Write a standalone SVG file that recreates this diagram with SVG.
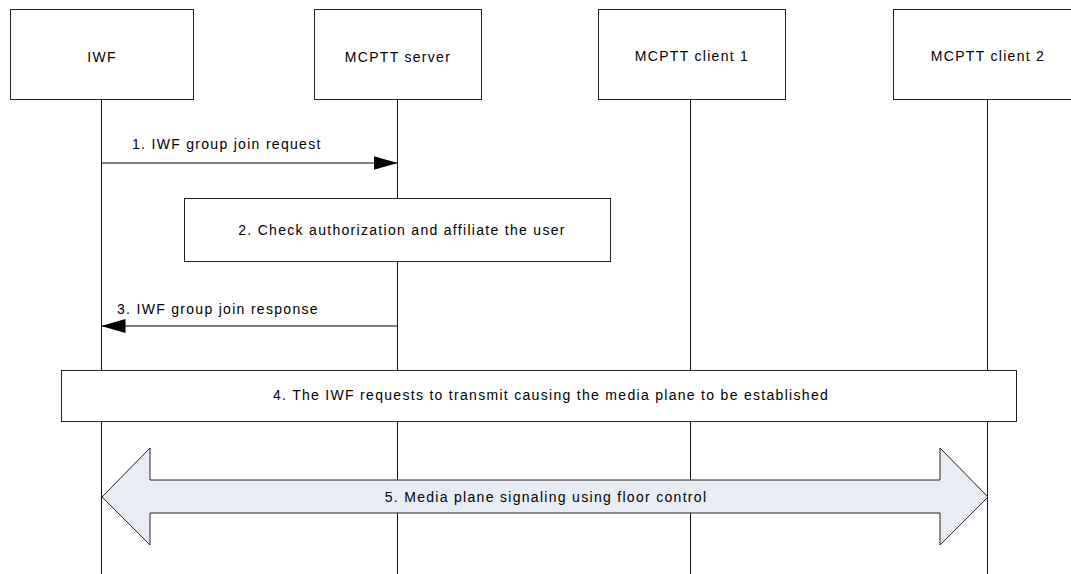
<svg xmlns="http://www.w3.org/2000/svg" width="1071" height="574" viewBox="0 0 1071 574">
<style>
.box{fill:#fff;stroke:#222;stroke-width:1}
.life{stroke:#111;stroke-width:1;fill:none}
.msg{stroke:#000;stroke-width:1.2;fill:none}
text{font-family:"Liberation Sans",Arial,sans-serif;font-size:14px;letter-spacing:1.3px;fill:#000}
.c{text-anchor:middle}
.big{fill:#e8edf5;stroke:#222;stroke-width:1}
</style>
<defs>
<marker id="ah" markerUnits="userSpaceOnUse" markerWidth="24" markerHeight="16" refX="24" refY="7" orient="auto">
<path d="M0,0 L24,7 L0,14 Z" fill="#000"/>
</marker>
</defs>
<g id="lifelines">
<line class="life" x1="101.5" y1="99" x2="101.5" y2="574"/>
<line class="life" x1="397.5" y1="99" x2="397.5" y2="574"/>
<line class="life" x1="690.5" y1="99" x2="690.5" y2="574"/>
<line class="life" x1="987.5" y1="99" x2="987.5" y2="574"/>
</g>
<g id="iwf"><rect class="box" x="10.5" y="9.5" width="183" height="90"/><text class="c" x="102" y="62">IWF</text></g>
<g id="server"><rect class="box" x="314.5" y="9.5" width="167" height="90"/><text class="c" x="398" y="62">MCPTT server</text></g>
<g id="client1"><rect class="box" x="598.5" y="9.5" width="187" height="90"/><text class="c" x="692" y="61">MCPTT client 1</text></g>
<g id="client2"><rect class="box" x="893.5" y="9.5" width="190" height="90"/><text class="c" x="988" y="61">MCPTT client 2</text></g>
<g id="connectors">
<line class="msg" x1="101.5" y1="163" x2="397.5" y2="163" marker-end="url(#ah)"/>
<line class="msg" x1="397.5" y1="326" x2="101.5" y2="326" marker-end="url(#ah)"/>
</g>
<g id="labels">
<text x="132" y="149">1. IWF group join request</text>
<text x="117" y="314">3. IWF group join response</text>
</g>
<g id="step2"><rect class="box" x="184.5" y="198.5" width="426" height="63"/><text class="c" x="402" y="235">2. Check authorization and affiliate the user</text></g>
<g id="step4"><rect class="box" x="61.5" y="370.5" width="955" height="51"/><text class="c" x="551" y="400">4. The IWF requests to transmit causing the media plane to be established</text></g>
<g id="step5"><path class="big" d="M102,497 L150,448 L150,480 L940,480 L940,448 L988,497 L940,545 L940,513 L150,513 L150,545 Z"/><text class="c" x="546" y="502">5. Media plane signaling using floor control</text></g>
</svg>
